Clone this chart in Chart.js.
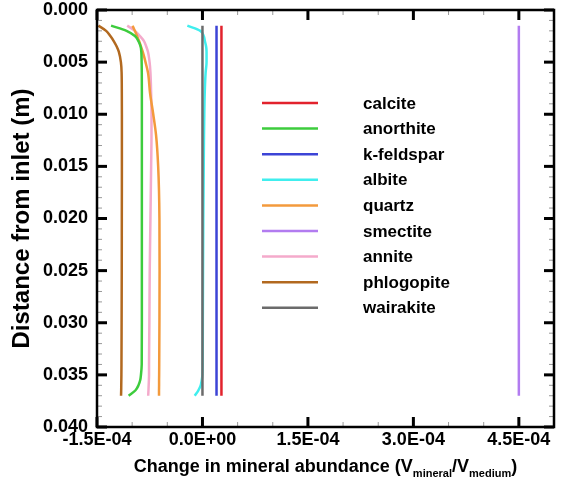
<!DOCTYPE html>
<html>
<head>
<meta charset="utf-8">
<script src="https://cdn.jsdelivr.net/npm/chart.js@4.4.0/dist/chart.umd.min.js"></script>
<style>
  html, body { margin: 0; padding: 0; background: #fff; }
  #wrap { width: 564px; height: 488px; }
</style>
</head>
<body>
<div id="wrap"><canvas id="chart" width="564" height="488"></canvas></div>
<script>
// distance from inlet (m)
const depth = [0.0015, 0.002, 0.0025, 0.003, 0.0035, 0.004, 0.005, 0.006, 0.008, 0.010, 0.012,
               0.015, 0.020, 0.025, 0.030, 0.034, 0.035, 0.0355, 0.036, 0.0365, 0.037];

// change in mineral abundance, in units of 1E-04
const UNIT = 1e-4;
const calcite    = [0.27, 0.27, 0.27, 0.27, 0.27, 0.27, 0.27, 0.27, 0.27, 0.27, 0.27,
                    0.27, 0.27, 0.27, 0.27, 0.27, 0.27, 0.27, 0.27, 0.27, 0.27];
const anorthite  = [-1.30, -1.08, -0.96, -0.91, -0.88, -0.87, -0.865, -0.863, -0.862, -0.862, -0.862,
                    -0.862, -0.862, -0.862, -0.862, -0.864, -0.875, -0.885, -0.91, -0.955, -1.05];
const kfeldspar  = [0.20, 0.20, 0.20, 0.20, 0.20, 0.20, 0.20, 0.20, 0.20, 0.20, 0.20,
                    0.20, 0.20, 0.20, 0.20, 0.20, 0.20, 0.20, 0.20, 0.20, 0.20];
const albite     = [-0.215, -0.03, 0.018, 0.035, 0.052, 0.058, 0.058, 0.045, 0.032, 0.026, 0.022,
                    0.018, 0.012, 0.008, 0.005, 0.003, 0.0, -0.01, -0.025, -0.06, -0.11];
const quartz     = [-0.995, -0.962, -0.93, -0.90, -0.875, -0.85, -0.81, -0.775, -0.745, -0.70, -0.66,
                    -0.63, -0.612, -0.61, -0.612, -0.615, -0.616, -0.617, -0.617, -0.618, -0.618];
const smectite   = [4.5, 4.5, 4.5, 4.5, 4.5, 4.5, 4.5, 4.5, 4.5, 4.5, 4.5,
                    4.5, 4.5, 4.5, 4.5, 4.5, 4.5, 4.5, 4.5, 4.5, 4.5];
const annite     = [-1.07, -0.96, -0.89, -0.83, -0.80, -0.775, -0.752, -0.74, -0.73, -0.725, -0.725,
                    -0.73, -0.74, -0.75, -0.755, -0.76, -0.76, -0.762, -0.765, -0.768, -0.772];
const phlogopite = [-1.48, -1.37, -1.31, -1.26, -1.22, -1.19, -1.16, -1.15, -1.147, -1.146, -1.146,
                    -1.146, -1.147, -1.148, -1.15, -1.152, -1.153, -1.154, -1.155, -1.156, -1.158];
const wairakite  = [0, 0, 0, 0, 0, 0, 0, 0, 0, 0, 0,
                    0, 0, 0, 0, 0, 0, 0, 0, 0, 0];

const mineralNames = ["calcite", "anorthite", "k-feldspar", "albite", "quartz",
                      "smectite", "annite", "phlogopite", "wairakite"];
const mineralValues = [calcite, anorthite, kfeldspar, albite, quartz,
                       smectite, annite, phlogopite, wairakite];
const colors = ["#e2222c", "#3dcc3d", "#3c44d6", "#40eeee", "#f39a3c",
                "#b27cf0", "#f4aacb", "#b2691f", "#6b6b6b"];

// axis ranges and tick spacing
const xMin = -1.5e-4, xMax = 5e-4, xMinor = 0.5e-4, xMajor = 1.5e-4;
const yMin = 0, yMax = 0.04, yMinor = 0.001, yMajor = 0.005;

const FONT = "'Liberation Sans', Arial, Helvetica, sans-serif";

const isMajor = (v, step) => Math.abs(v / step - Math.round(v / step)) < 1e-6;

const fmtExp = v => {
  const s = v.toExponential(1).toUpperCase();
  const [m, e] = s.split("E");
  const sign = e[0] === "-" ? "-" : "+";
  const digits = e.replace(/[+-]/, "").padStart(2, "0");
  return m + "E" + sign + digits;
};

const datasets = mineralNames.map((name, i) => ({
  label: name,
  data: depth.map((d, j) => ({ x: mineralValues[i][j] * UNIT, y: d })),
  borderColor: colors[i],
  backgroundColor: colors[i],
  borderWidth: 2.5,
  pointRadius: 0,
  fill: false,
  cubicInterpolationMode: "monotone",
  order: name === "albite" ? 1 : 0
}));

// frame, inward ticks, legend and the x title with subscripts
const framePlugin = {
  id: "frame",
  afterDraw(chart) {
    const { ctx, chartArea: a, scales: { x, y } } = chart;
    const top = a.top, bottom = a.bottom, left = a.left, right = a.right;
    ctx.save();
    const seg = (x1, y1, x2, y2) => { ctx.beginPath(); ctx.moveTo(x1, y1); ctx.lineTo(x2, y2); ctx.stroke(); };

    x.ticks.forEach(t => {
      const px = x.getPixelForValue(t.value);
      const major = isMajor(t.value, xMajor);
      ctx.strokeStyle = major ? "#000" : "#999";
      ctx.lineWidth = major ? 3 : 1;
      const len = major ? 10 : 5;
      seg(px, bottom, px, bottom - len);
      seg(px, top, px, top + len);
    });
    y.ticks.forEach(t => {
      const py = y.getPixelForValue(t.value);
      const major = isMajor(t.value, yMajor);
      ctx.strokeStyle = major ? "#000" : "#999";
      ctx.lineWidth = major ? 3 : 1;
      const len = major ? 10 : 5;
      seg(left, py, left + len, py);
      seg(right, py, right - len, py);
    });

    ctx.strokeStyle = "#000";
    ctx.lineWidth = 2.5;
    ctx.strokeRect(left, top, right - left, bottom - top);

    // legend
    ctx.font = "bold 17px " + FONT;
    ctx.textBaseline = "middle";
    ctx.textAlign = "left";
    chart.data.datasets.forEach((ds, i) => {
      const ly = top + 93 + i * 25.6;
      ctx.strokeStyle = ds.borderColor;
      ctx.lineWidth = 2.5;
      seg(left + 165, ly, left + 221, ly);
      ctx.fillStyle = "#000";
      ctx.fillText(ds.label, left + 266, ly + 1);
    });

    // x axis title
    const parts = [
      ["Change in mineral abundance (V", 18, 0],
      ["mineral", 11, 5],
      ["/V", 18, 0],
      ["medium", 11, 5],
      [")", 18, 0]
    ];
    ctx.textBaseline = "alphabetic";
    let total = 0;
    parts.forEach(p => { ctx.font = "bold " + p[1] + "px " + FONT; total += ctx.measureText(p[0]).width; });
    let tx = (left + right) / 2 - total / 2;
    const base = 472;
    parts.forEach(p => {
      ctx.font = "bold " + p[1] + "px " + FONT;
      ctx.fillText(p[0], tx, base + p[2]);
      tx += ctx.measureText(p[0]).width;
    });
    ctx.restore();
  }
};

new Chart(document.getElementById("chart").getContext("2d"), {
  type: "line",
  data: { datasets: datasets },
  options: {
    responsive: false,
    animation: false,
    indexAxis: "y",
    layout: { padding: { top: 0, right: 10, left: 0, bottom: 0 } },
    scales: {
      x: {
        type: "linear",
        position: "bottom",
        min: xMin,
        max: xMax,
        grid: { display: false, drawTicks: false },
        border: { display: false },
        afterFit: s => { s.height = 61; s.paddingLeft = 0; s.paddingRight = 0; },
        ticks: {
          stepSize: xMinor,
          padding: 2,
          maxRotation: 0,
          autoSkip: false,
          color: "#000",
          font: { family: FONT, size: 18, weight: "bold" },
          callback: v => isMajor(v, xMajor) ? fmtExp(v) : ""
        }
      },
      y: {
        type: "linear",
        position: "left",
        reverse: true,
        min: yMin,
        max: yMax,
        grid: { display: false, drawTicks: false },
        border: { display: false },
        afterFit: s => { s.width = 97; s.paddingTop = 10; s.paddingBottom = 0; },
        title: {
          display: true,
          text: "Distance from inlet (m)",
          color: "#000",
          font: { family: FONT, size: 24, weight: "bold" },
          padding: { top: 8, bottom: 0 }
        },
        ticks: {
          stepSize: yMinor,
          padding: 9,
          autoSkip: false,
          color: "#000",
          font: { family: FONT, size: 18, weight: "bold" },
          callback: v => isMajor(v, yMajor) ? v.toFixed(3) : ""
        }
      }
    },
    plugins: {
      legend: { display: false },
      tooltip: { enabled: false }
    }
  },
  plugins: [framePlugin]
});
</script>
</body>
</html>
